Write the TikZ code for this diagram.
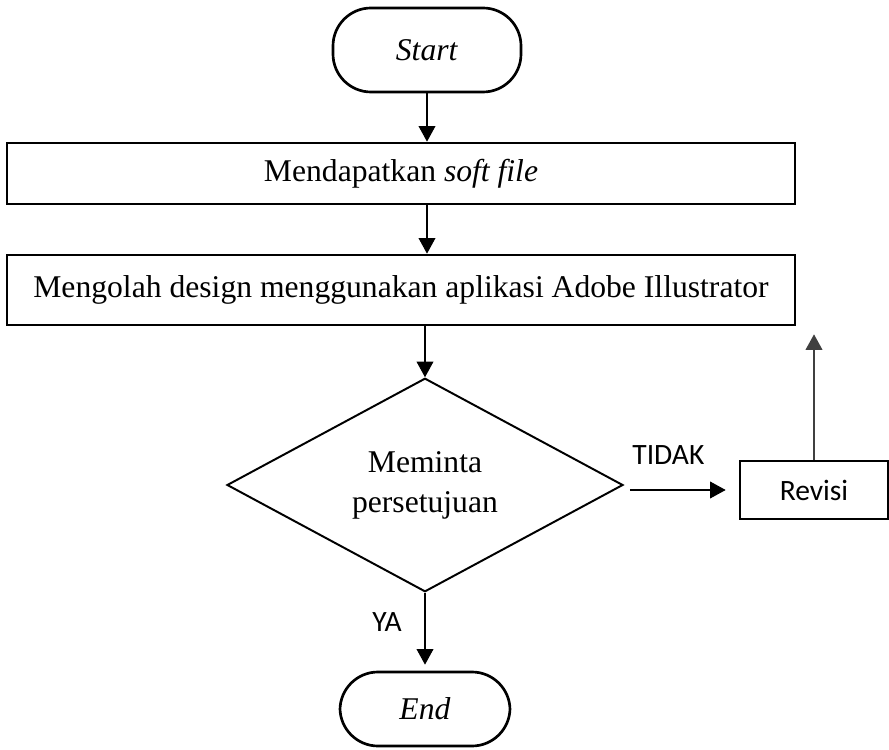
\documentclass[tikz,border=0pt]{standalone}
\usepackage{fontspec}
\setmainfont{Liberation Serif}
\newfontfamily\labelfont{Carlito}
\usetikzlibrary{shapes.geometric,arrows.meta}

\begin{document}
\begin{tikzpicture}[
    every node/.style={font=\fontsize{22.5}{28.5}\selectfont},
    terminal/.style={draw=black, line width=1.9pt, rounded corners=0.95cm},
    process/.style={draw=black, line width=1.9pt, minimum width=19.7cm},
    decision/.style={draw=black, line width=1.4pt, diamond, inner sep=0pt,
                     minimum width=9.9cm, minimum height=5.3cm, align=center},
    flow/.style={-{Triangle[length=0.39cm,width=0.42cm]}, line width=0.75pt},
    answer/.style={font=\labelfont\fontsize{21}{25}\selectfont}
  ]
  \useasboundingbox (0,0) rectangle (22.225,18.725);

  \node[terminal, minimum width=4.7cm, minimum height=2.1cm](start) at (10.675,17.475) {\textit{Start}};
  \node[process, minimum height=1.525cm](soft)  at (10.025,14.3875) {Mendapatkan \textit{soft file}};
  \node[process, minimum height=1.75cm](olah)   at (10.025,11.475) {Mengolah design menggunakan aplikasi Adobe Illustrator};
  \node[decision](setuju) at (10.625,6.6) {Meminta\\persetujuan};
  \node[draw=black, line width=1.6pt, minimum width=3.7cm, minimum height=1.45cm,
        font=\labelfont\fontsize{21}{25}\selectfont](revisi) at (20.35,6.475) {Revisi};
  \node[terminal, minimum width=4.25cm, minimum height=1.85cm](end) at (10.625,1.0) {\textit{End}};

  \node[answer](tidak) at (16.71,7.35) {TIDAK};
  \node[answer](ya)    at (9.675,3.175) {YA};

  \draw[flow] (start.south) -- (start.south |- soft.north);
  \draw[flow] (start.south |- soft.south) -- (start.south |- olah.north);
  \draw[flow] (setuju.north |- olah.south) -- (setuju.north);
  \draw[flow, shorten <=0.15cm, shorten >=0.33cm] (revisi.west -| setuju.east) -- (revisi.west);
  \draw[flow, line width=1pt, black!75, shorten >=0.2cm] (revisi.north) -- (revisi.north |- olah.south);
  \draw[flow, shorten >=0.15cm] (setuju.south) -- (end.north);
\end{tikzpicture}
\end{document}
